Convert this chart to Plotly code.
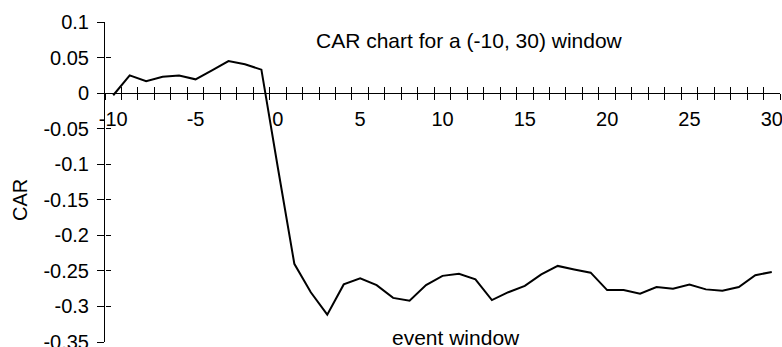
import plotly.graph_objects as go

# ---- data ----
event_days = list(range(-10, 31))
car = [-0.003, 0.025, 0.0166, 0.023, 0.0246, 0.0194, 0.032, 0.045, 0.0405, 0.033,
       -0.105, -0.240, -0.280, -0.3115, -0.269, -0.2605, -0.270, -0.288, -0.292, -0.270,
       -0.257, -0.254, -0.262, -0.291, -0.280, -0.271, -0.255, -0.243, -0.248, -0.2525,
       -0.277, -0.277, -0.282, -0.2727, -0.275, -0.2693, -0.276, -0.278, -0.2727, -0.256,
       -0.2515]
x_label_vals = [-10, -5, 0, 5, 10, 15, 20, 25, 30]
x_label_text = ["-10", "-5", "0", "5", "10", "15", "20", "25", "30"]
y_tick_vals = [0.1, 0.05, 0, -0.05, -0.1, -0.15, -0.2, -0.25, -0.3, -0.35]
y_tick_text = ["0.1", "0.05", "0", "-0.05", "-0.1", "-0.15", "-0.2", "-0.25", "-0.3", "-0.35"]
title_text = "CAR chart for a (-10, 30) window"
x_title = "event window"
y_title = "CAR"

x_range = [-10.5, 30.5]
y_range = [-0.35, 0.1]
cat_ticks = [d - 0.5 for d in event_days] + [event_days[-1] + 0.5]
x_axis_pos = (0 - y_range[0]) / (y_range[1] - y_range[0])

FONT = "Liberation Sans, Arial, sans-serif"
FS = 20
FS_TITLE = 21

fig = go.Figure()
fig.add_trace(go.Scatter(x=event_days, y=car, mode="lines",
                         line=dict(color="black", width=2), showlegend=False))
# invisible trace for overlay axes (cross tick marks)
fig.add_trace(go.Scatter(x=[None], y=[None], xaxis="x2", yaxis="y2", showlegend=False))

fig.update_layout(
    width=782, height=347,
    margin=dict(l=105, r=2, t=22, b=5, autoexpand=False),
    paper_bgcolor="white", plot_bgcolor="white",
    font=dict(family=FONT, size=FS, color="black"),
    xaxis=dict(range=x_range, anchor="free", position=x_axis_pos, automargin=False,
               showline=True, linecolor="black", linewidth=1,
               showgrid=False, zeroline=False,
               tickmode="array", tickvals=x_label_vals, ticktext=x_label_text,
               ticks="outside", ticklen=6, tickcolor="rgba(0,0,0,0)",
               ticklabelstandoff=2, ticklabeloverflow="allow",
               minor=dict(tickmode="array", tickvals=cat_ticks, ticks="outside",
                          ticklen=6, tickcolor="black", tickwidth=1, showgrid=False)),
    xaxis2=dict(range=x_range, overlaying="x", anchor="free", position=x_axis_pos,
                automargin=False,
                showline=False, showgrid=False, zeroline=False,
                tickmode="array", tickvals=cat_ticks, ticks="inside", ticklen=6,
                tickcolor="black", tickwidth=1, showticklabels=False),
    yaxis=dict(range=y_range, automargin=False,
               showline=True, linecolor="black", linewidth=1,
               showgrid=False, zeroline=False,
               tickmode="array", tickvals=y_tick_vals, ticktext=y_tick_text,
               ticks="outside", ticklen=7, tickcolor="black", tickwidth=1,
               ticklabelstandoff=4, ticklabeloverflow="allow"),
    yaxis2=dict(range=y_range, overlaying="y", anchor="free", position=0, side="left",
                automargin=False,
                showline=False, showgrid=False, zeroline=False,
                tickmode="array", tickvals=y_tick_vals, ticks="inside", ticklen=5,
                tickcolor="black", tickwidth=1, showticklabels=False),
    annotations=[
        dict(text=title_text, xref="paper", yref="paper", x=0.54, y=0.9416,
             showarrow=False, xanchor="center", yanchor="middle",
             font=dict(family=FONT, size=FS_TITLE, color="black")),
        dict(text=x_title, xref="paper", yref="paper", x=0.52, y=0.015,
             showarrow=False, xanchor="center", yanchor="middle",
             font=dict(family=FONT, size=FS_TITLE, color="black")),
        dict(text=y_title, xref="paper", yref="paper", x=-0.1259, y=0.444,
             showarrow=False, xanchor="center", yanchor="middle", textangle=-90,
             font=dict(family=FONT, size=FS, color="black")),
    ],
)

fig.write_html(
    "out.html",
    config={"displayModeBar": False},
    post_script="document.body.style.margin='0';document.body.style.overflow='hidden';",
)
